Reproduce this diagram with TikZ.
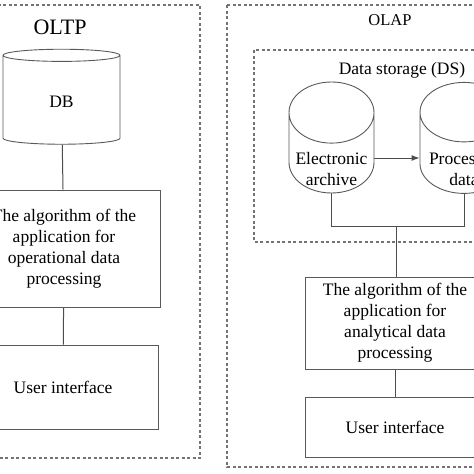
\documentclass[tikz,border=0pt]{standalone}
\usepackage{fontspec}
\setmainfont{Liberation Serif}
\usetikzlibrary{shapes.geometric}
\usetikzlibrary{arrows.meta}

\newcommand{\cyltext}[2]{\raisebox{#1}[0pt][0pt]{\begin{tabular}{@{}c@{}}#2\end{tabular}}}

\begin{document}
\begin{tikzpicture}[x=1pt, y=-1pt,
        frame/.style={draw=black!55, dash pattern=on 3pt off 2.5pt, line width=1.1pt},
        store/.style={cylinder, shape border rotate=90, draw=black!65, line width=0.9pt,
            inner sep=0pt, font=\fontsize{17.5}{21}\selectfont},
        box/.style={rectangle, draw=black!65, line width=1pt, align=center,
            inner sep=0pt, font=\fontsize{17.5}{21}\selectfont},
        link/.style={draw=black!70, line width=1pt}]
        \useasboundingbox (0,0) rectangle (474,474);
        \clip (0,0) rectangle (474,474);

        % Frames
        \draw[frame] (-20,5) rectangle (200,458);
        \draw[frame] (227,5) rectangle (520,467);
        \draw[frame] (254,50) rectangle (510,242);

        % OLTP side
        \node[font=\fontsize{22}{26}\selectfont] (oltp) at (60,27) {OLTP};
        \node[store, minimum width=117pt, minimum height=95pt, aspect=0.5] (db) at (61.5,100)
            {\cyltext{-8pt}{DB}};
        \node[box, minimum width=192pt, minimum height=117pt] (alg1) at (64,248.5)
            {The algorithm of the\\application for\\operational data\\processing};
        \node[box, minimum width=190pt, minimum height=84pt] (ui1) at (63,387) {User interface};
        \draw[link] (db) -- (alg1);
        \draw[link] (alg1) -- (ui1);

        % OLAP side
        \node[font=\fontsize{16.5}{20}\selectfont] (olap) at (390,20) {OLAP};
        \node[font=\fontsize{17.5}{21}\selectfont] (ds) at (402,70) {Data storage (DS)};
        \node[store, minimum width=85pt, minimum height=111pt, aspect=0.85] (arch) at (331.5,153)
            {\cyltext{-22pt}{Electronic\\archive}};
        \node[store, minimum width=88pt, minimum height=111pt, aspect=0.85] (pdata) at (464,153)
            {\cyltext{-22pt}{Processed\\data}};
        \draw[link, -{Latex[length=8pt, width=6pt]}] ([yshift=-5pt]arch.east) -- ([yshift=-5pt]pdata.west);

        \node[box, minimum width=180pt, minimum height=92pt] (alg2) at (395,323)
            {The algorithm of the\\application for\\analytical data\\processing};
        \node[box, minimum width=180pt, minimum height=60pt] (ui2) at (395,427) {User interface};
        \coordinate (bus) at (396,226);
        \draw[link] (arch.south) -- (arch.south |- bus) -- (pdata.south |- bus) -- (pdata.south);
        \draw[link] (bus) -- (alg2.north -| bus);
        \draw[link] (alg2) -- (ui2);
    \end{tikzpicture}
\end{document}
